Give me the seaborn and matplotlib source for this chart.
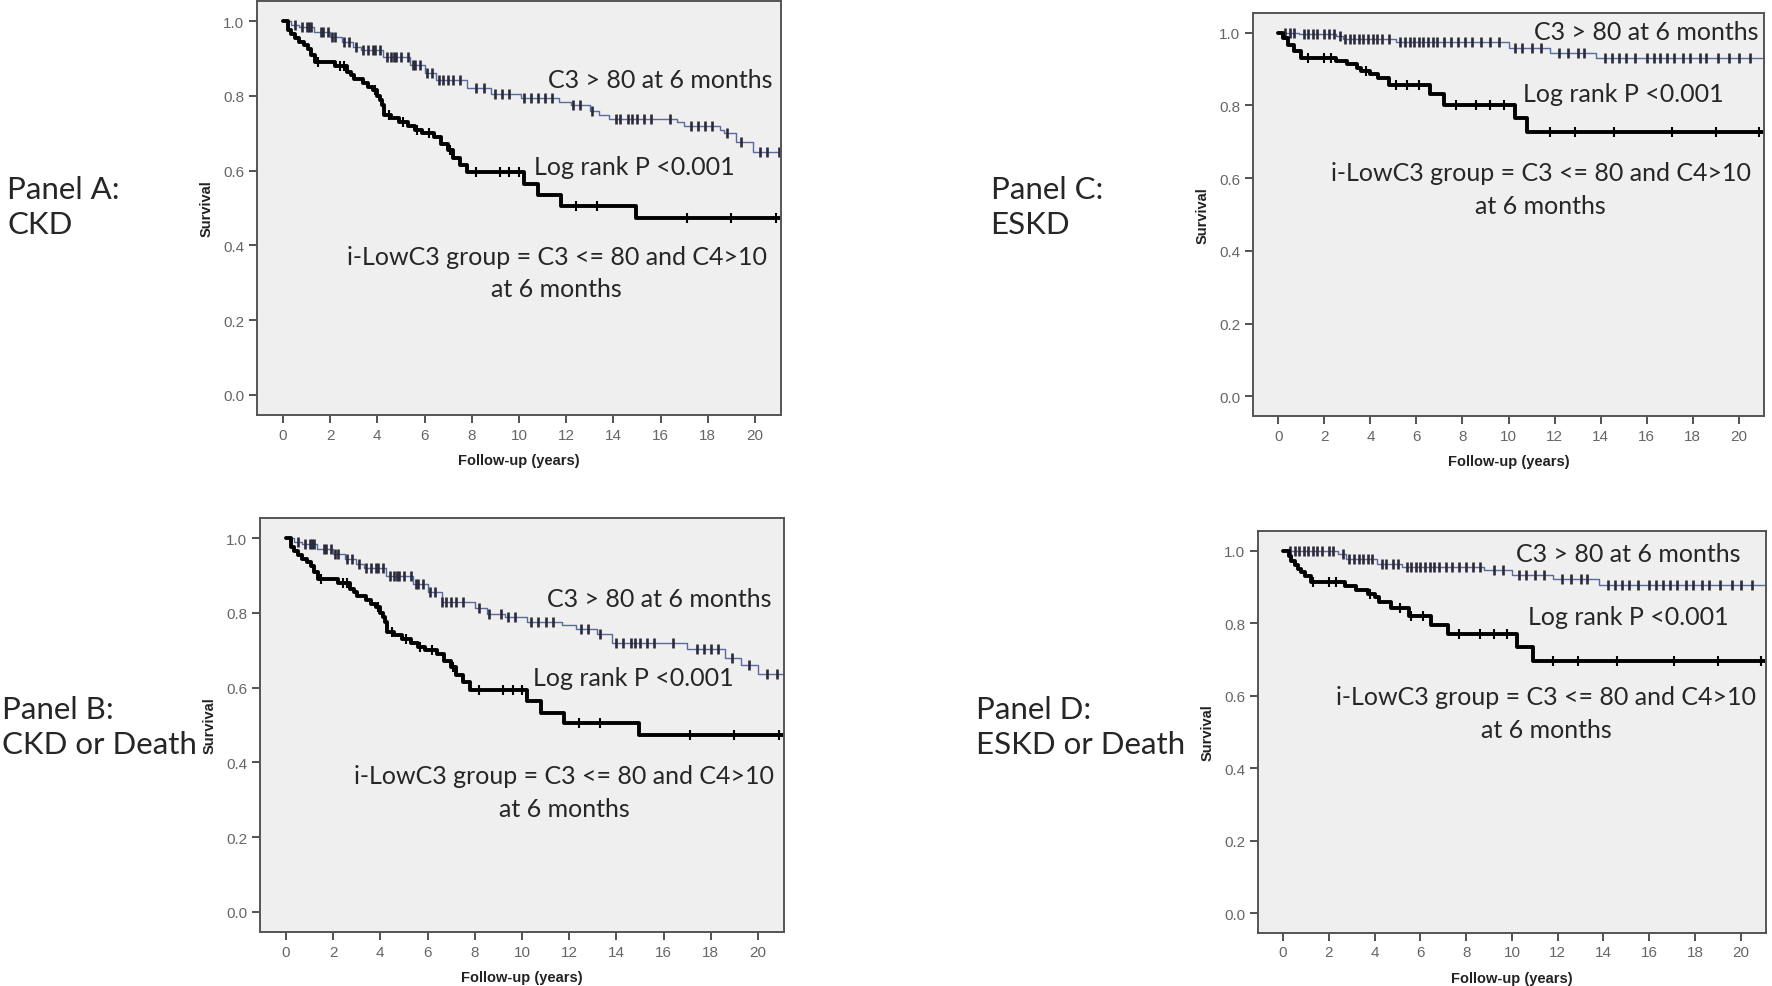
import numpy as np
import matplotlib
matplotlib.use("Agg")
import matplotlib.pyplot as plt
import seaborn as sns
import pandas as pd

# ---- data (Kaplan-Meier steps + censor times) ----
# Panel A: CKD
a_hi_t = [0.35, 0.7, 1.3, 2.0, 2.5, 2.95, 3.3, 4.25, 5.4, 6.0, 6.5, 7.8, 8.8, 10.1, 11.7,
          12.2, 13.0, 13.4, 13.8, 16.7, 17.0, 18.5, 18.7, 19.2, 19.9]
a_hi_s = [0.99, 0.985, 0.97, 0.958, 0.945, 0.93, 0.922, 0.905, 0.882, 0.86, 0.842, 0.82, 0.806,
          0.795, 0.784, 0.775, 0.76, 0.748, 0.739, 0.73, 0.72, 0.708, 0.70, 0.677, 0.65]
a_hi_c = [0.5, 0.8, 1.0, 1.1, 1.2, 1.6, 1.7, 1.9, 2.1, 2.2, 2.6, 2.8, 3.1, 3.4, 3.6, 3.8, 3.9,
          4.1, 4.4, 4.6, 4.7, 4.8, 5.0, 5.3, 5.5, 5.6, 5.8, 6.1, 6.3, 6.6, 6.8, 7.0, 7.2, 7.5,
          8.2, 8.5, 9.0, 9.3, 9.6, 10.2, 10.5, 10.8, 11.1, 11.4, 12.3, 12.6, 13.1, 14.1, 14.3,
          14.6, 14.8, 15.0, 15.3, 15.6, 16.4, 17.3, 17.6, 17.9, 18.2, 18.8, 19.4, 20.2, 20.5, 21.0]
a_lo_t = [0.2, 0.35, 0.5, 0.7, 0.9, 1.05, 1.2, 1.35, 2.2, 2.7, 2.9, 3.0, 3.4, 3.6, 3.8, 4.0,
          4.1, 4.2, 4.3, 4.6, 4.9, 5.3, 5.6, 5.9, 6.4, 6.7, 7.0, 7.2, 7.5, 7.8, 10.2, 10.8,
          11.8, 14.95]
a_lo_s = [0.975, 0.965, 0.955, 0.945, 0.935, 0.925, 0.91, 0.89, 0.88, 0.865, 0.855, 0.845,
          0.835, 0.825, 0.815, 0.80, 0.79, 0.775, 0.75, 0.74, 0.73, 0.72, 0.71, 0.70, 0.69,
          0.67, 0.655, 0.635, 0.615, 0.595, 0.565, 0.535, 0.505, 0.474]
a_lo_c = [1.5, 2.4, 2.6, 3.9, 4.5, 5.1, 5.7, 6.2, 7.1, 8.2, 9.2, 9.6, 10.0, 12.4, 13.3,
          17.1, 19.0, 20.9]

# Panel B: CKD or Death
b_hi_t = [0.35, 0.7, 1.3, 2.0, 2.5, 2.95, 3.3, 4.25, 5.4, 6.0, 6.6, 8.0, 8.5, 9.3, 10.2,
          11.7, 12.3, 13.2, 13.8, 17.0, 18.6, 19.3, 20.0]
b_hi_s = [0.99, 0.985, 0.97, 0.958, 0.945, 0.93, 0.92, 0.90, 0.877, 0.855, 0.828, 0.812,
          0.797, 0.788, 0.776, 0.767, 0.757, 0.743, 0.72, 0.703, 0.68, 0.66, 0.637]
b_hi_c = [0.5, 0.8, 1.0, 1.1, 1.2, 1.6, 1.7, 1.9, 2.1, 2.2, 2.6, 2.8, 3.1, 3.4, 3.6, 3.8, 3.9,
          4.1, 4.4, 4.6, 4.7, 4.8, 5.0, 5.3, 5.5, 5.6, 5.8, 6.1, 6.3, 6.6, 6.8, 7.0, 7.2, 7.5,
          8.2, 8.6, 9.1, 9.4, 9.7, 10.4, 10.7, 11.0, 11.3, 12.5, 12.8, 13.3, 14.0, 14.3, 14.6,
          14.8, 15.0, 15.3, 15.6, 16.4, 17.4, 17.7, 18.0, 18.3, 18.9, 19.6, 20.4, 20.8]
b_lo_t = [0.2, 0.35, 0.5, 0.7, 0.9, 1.05, 1.2, 1.35, 2.2, 2.7, 2.9, 3.0, 3.4, 3.6, 3.8, 4.0,
          4.1, 4.2, 4.3, 4.6, 4.9, 5.3, 5.6, 5.9, 6.4, 6.7, 7.0, 7.2, 7.5, 7.8, 10.2, 10.8,
          11.8, 14.95]
b_lo_s = [0.975, 0.965, 0.955, 0.945, 0.935, 0.925, 0.91, 0.89, 0.88, 0.865, 0.855, 0.845,
          0.835, 0.825, 0.815, 0.80, 0.79, 0.775, 0.75, 0.74, 0.73, 0.72, 0.71, 0.70, 0.69,
          0.67, 0.655, 0.635, 0.615, 0.593, 0.563, 0.533, 0.505, 0.472]
b_lo_c = [1.5, 2.4, 2.6, 3.9, 4.5, 5.1, 5.7, 6.2, 7.1, 8.2, 9.2, 9.6, 10.0, 12.4, 13.3,
          17.1, 19.0, 20.9]

# Panel C: ESKD
c_hi_t = [0.9, 2.5, 2.8, 5.1, 10.0, 11.8, 13.8]
c_hi_s = [0.997, 0.99, 0.982, 0.973, 0.959, 0.945, 0.929]
c_hi_c = [0.3, 0.5, 0.7, 1.1, 1.3, 1.5, 1.7, 2.0, 2.2, 2.4, 2.7, 2.9, 3.1, 3.3, 3.5, 3.7, 3.9,
          4.1, 4.3, 4.5, 4.8, 5.3, 5.5, 5.7, 5.9, 6.1, 6.3, 6.5, 6.7, 6.9, 7.2, 7.5, 7.8, 8.1,
          8.4, 8.8, 9.2, 9.6, 10.3, 10.6, 11.0, 11.4, 12.2, 12.6, 13.0, 13.3, 14.2, 14.5, 14.8,
          15.1, 15.5, 16.0, 16.3, 16.6, 16.9, 17.2, 17.6, 17.9, 18.3, 18.6, 19.1, 19.6, 20.0,
          20.5]
c_lo_t = [0.2, 0.4, 0.7, 1.0, 2.5, 3.0, 3.4, 3.6, 4.0, 4.35, 4.8, 6.6, 7.2, 10.3, 10.8]
c_lo_s = [0.985, 0.965, 0.95, 0.931, 0.922, 0.913, 0.904, 0.895, 0.886, 0.874, 0.855, 0.83,
          0.802, 0.766, 0.727]
c_lo_c = [1.3, 2.0, 2.3, 3.8, 5.1, 5.6, 6.1, 7.7, 8.6, 9.2, 9.8, 11.8, 12.9, 14.6, 17.1,
          19.0, 20.9]

# Panel D: ESKD or Death
d_hi_t = [2.4, 2.75, 4.1, 5.2, 8.8, 10.0, 11.8, 13.8]
d_hi_s = [0.99, 0.977, 0.963, 0.956, 0.947, 0.933, 0.922, 0.905]
d_hi_c = [0.3, 0.5, 0.7, 0.9, 1.1, 1.3, 1.5, 1.7, 2.0, 2.2, 2.6, 2.9, 3.1, 3.3, 3.5, 3.7, 3.9,
          4.3, 4.5, 4.8, 5.0, 5.4, 5.6, 5.8, 6.0, 6.2, 6.4, 6.6, 6.8, 7.1, 7.4, 7.7, 8.0, 8.3,
          8.6, 9.2, 9.6, 10.3, 10.6, 11.0, 11.4, 12.2, 12.6, 13.0, 13.3, 14.2, 14.5, 14.8,
          15.1, 15.5, 16.0, 16.3, 16.6, 16.9, 17.2, 17.6, 17.9, 18.3, 18.6, 19.1, 19.6, 20.0,
          20.5]
d_lo_t = [0.25, 0.35, 0.5, 0.65, 0.8, 0.95, 1.2, 2.7, 3.2, 3.7, 4.0, 4.2, 4.7, 5.5, 6.45,
          7.2, 10.2, 10.9]
d_lo_s = [0.985, 0.97, 0.96, 0.95, 0.94, 0.931, 0.913, 0.902, 0.89, 0.88, 0.871, 0.858,
          0.841, 0.819, 0.795, 0.77, 0.733, 0.697]
d_lo_c = [1.3, 2.0, 2.3, 3.8, 5.1, 5.6, 6.1, 7.7, 8.6, 9.2, 9.8, 11.8, 12.9, 14.6, 17.1,
          19.0, 20.9]

panel_names = ["Panel A:\nCKD", "Panel B:\nCKD or Death", "Panel C:\nESKD", "Panel D:\nESKD or Death"]
hi_label = "C3 > 80 at 6 months"
p_label = "Log rank P <0.001"
lo_label_1 = "i-LowC3 group = C3 <= 80 and C4>10"
lo_label_2 = "at 6 months"

x_ticks = list(range(0, 21, 2))
y_ticks = [0.0, 0.2, 0.4, 0.6, 0.8, 1.0]
t_end = 21.5

# ---- layout (figure fractions) and text anchors (data coords) ----
panels = [
    dict(hi=(a_hi_t, a_hi_s, a_hi_c), lo=(a_lo_t, a_lo_s, a_lo_c),
         rect=[0.1450, 0.5785, 0.2957, 0.4195], name_xy=(0.004, 0.790),
         txt=[(16.0, 0.845), (14.9, 0.611), (11.6, 0.37), (11.6, 0.284)]),
    dict(hi=(b_hi_t, b_hi_s, b_hi_c), lo=(b_lo_t, b_lo_s, b_lo_c),
         rect=[0.1467, 0.0547, 0.2957, 0.4195], name_xy=(0.001, 0.263),
         txt=[(15.8, 0.839), (14.7, 0.626), (11.8, 0.366), (11.8, 0.277)]),
    dict(hi=(c_hi_t, c_hi_s, c_hi_c), lo=(c_lo_t, c_lo_s, c_lo_c),
         rect=[0.7071, 0.5775, 0.2884, 0.4083], name_xy=(0.559, 0.790),
         txt=[(16.0, 1.003), (15.0, 0.832), (11.4, 0.615), (11.4, 0.525)]),
    dict(hi=(d_hi_t, d_hi_s, d_hi_c), lo=(d_lo_t, d_lo_s, d_lo_c),
         rect=[0.7099, 0.0537, 0.2867, 0.4073], name_xy=(0.551, 0.263),
         txt=[(15.1, 0.992), (15.1, 0.818), (11.5, 0.597), (11.5, 0.506)]),
]

sns.set_theme(style="ticks")
plt.rcParams["font.family"] = ["Liberation Sans", "DejaVu Sans"]
ann_font = ["Lato", "DejaVu Sans"]

fig = plt.figure(figsize=(17.72, 9.87), dpi=100)


def km_frame(t, s):
    x = [0.0] + list(t) + [t_end]
    y = [1.0] + list(s) + [s[-1]]
    return pd.DataFrame({"time": x, "surv": y})


def censor_frame(t, s, c):
    t = np.asarray(t)
    s = np.asarray(s)
    c = np.asarray(c)
    idx = np.searchsorted(t, c, side="right") - 1
    lev = np.where(idx >= 0, s[np.clip(idx, 0, None)], 1.0)
    return pd.DataFrame({"time": c, "surv": lev})


for i, p in enumerate(panels):
    ax = fig.add_axes(p["rect"])
    ax.set_facecolor("#efefef")

    ht, hs, hc = p["hi"]
    lt, ls, lc = p["lo"]

    sns.lineplot(data=km_frame(ht, hs), x="time", y="surv", ax=ax, drawstyle="steps-post",
                 estimator=None, sort=False, color="#5a6a9c", linewidth=1.0)
    cf = censor_frame(ht, hs, hc)
    ax.plot(cf["time"], cf["surv"], ls="none", marker="|", ms=7, mew=1.9, color="#2a2a3a")

    sns.lineplot(data=km_frame(lt, ls), x="time", y="surv", ax=ax, drawstyle="steps-post",
                 estimator=None, sort=False, color="black", linewidth=2.8)
    cf = censor_frame(lt, ls, lc)
    ax.plot(cf["time"], cf["surv"], ls="none", marker="|", ms=7, mew=1.5, color="black")

    ax.set_xlim(-1.1, 21.1)
    ax.set_ylim(-0.054, 1.054)
    ax.set_xticks(x_ticks)
    ax.set_yticks(y_ticks)
    ax.set_yticklabels([f"{v:.1f}" for v in y_ticks])
    for sp in ax.spines.values():
        sp.set_visible(True)
        sp.set_color("#555555")
        sp.set_linewidth(1.4)
    ax.tick_params(direction="out", length=6, width=1.3, color="#444444",
                   labelcolor="#666666", labelsize=11, pad=3)
    ax.set_xlabel("Follow-up (years)", fontsize=10.5, fontweight="bold", color="#222222",
                  labelpad=8)
    ax.set_ylabel("Survival", fontsize=10.5, fontweight="bold", color="#222222", labelpad=7)

    (x1, y1), (x2, y2), (x3, y3), (x4, y4) = p["txt"]
    ax.text(x1, y1, hi_label, ha="center", va="center", fontsize=18, family=ann_font)
    ax.text(x2, y2, p_label, ha="center", va="center", fontsize=18, family=ann_font)
    ax.text(x3, y3, lo_label_1, ha="center", va="center", fontsize=18, family=ann_font)
    ax.text(x4, y4, lo_label_2, ha="center", va="center", fontsize=18, family=ann_font)

    fig.text(p["name_xy"][0], p["name_xy"][1], panel_names[i], ha="left", va="center",
             fontsize=22.5, family=ann_font, linespacing=1.3)

fig.savefig("out.png", dpi=100, facecolor="white")
